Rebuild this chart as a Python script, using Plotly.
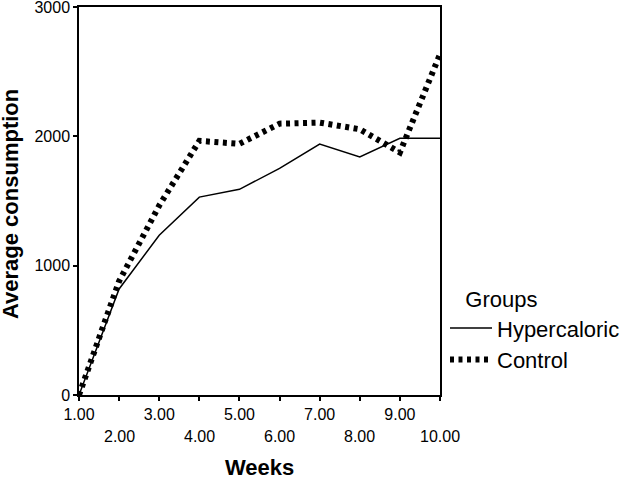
import plotly.graph_objects as go

# weekly average consumption
weeks = [1, 2, 3, 4, 5, 6, 7, 8, 9, 10]
hypercaloric = [0, 820, 1235, 1530, 1590, 1752, 1940, 1840, 1985, 1985]
control = [0, 880, 1465, 1965, 1942, 2098, 2106, 2055, 1875, 2635]
tick_labels = ["1.00", "2.00", "3.00", "4.00", "5.00", "6.00", "7.00", "8.00", "9.00", "10.00"]

FONT = "Liberation Sans, Arial, sans-serif"

fig = go.Figure()
fig.add_trace(go.Scatter(
    x=weeks, y=hypercaloric, name="Hypercaloric", mode="lines",
    line=dict(color="black", width=1.5)
))
fig.add_trace(go.Scatter(
    x=weeks, y=control, name="Control", mode="lines",
    line=dict(color="black", width=6, dash="4px,4.5px")
))

# odd weeks on the first row of tick labels, even weeks on a second row
odd_text = [t if w % 2 == 1 else "" for w, t in zip(weeks, tick_labels)]
for w, t in zip(weeks, tick_labels):
    if w % 2 == 0:
        fig.add_annotation(
            x=w, y=0, xref="x", yref="paper", yshift=-41,
            text=t, showarrow=False, yanchor="middle",
            font=dict(family=FONT, size=16, color="black")
        )

# axis titles placed as annotations so they can be positioned exactly
fig.add_annotation(
    x=0.5, y=0, xref="paper", yref="paper", yshift=-72, borderpad=0,
    text="<b>Weeks</b>", showarrow=False, xanchor="center", yanchor="middle",
    font=dict(family=FONT, size=22, color="black")
)
fig.add_annotation(
    x=0, y=0.5, xref="paper", yref="paper", xshift=-68.5, yshift=-3.5,
    text="<b>Average consumption</b>", showarrow=False, textangle=-90,
    xanchor="center", yanchor="middle", borderpad=0,
    font=dict(family=FONT, size=22, color="black")
)

fig.update_xaxes(
    range=[1, 10], tickvals=weeks, ticktext=odd_text,
    ticks="outside", ticklen=4, tickcolor="black", tickwidth=1.5,
    showline=True, linecolor="black", linewidth=1.5, mirror=True,
    showgrid=False, zeroline=False, automargin=False,
    ticklabeloverflow="allow",
    tickfont=dict(family=FONT, size=16, color="black")
)
fig.update_yaxes(
    range=[0, 3000], tickvals=[0, 1000, 2000, 3000],
    ticks="outside", ticklen=4, tickcolor="black", tickwidth=1.5,
    showline=True, linecolor="black", linewidth=1.5, mirror=True,
    showgrid=False, zeroline=False, automargin=False,
    ticklabeloverflow="allow",
    tickfont=dict(family=FONT, size=16, color="black")
)

fig.update_layout(
    width=621, height=479,
    margin=dict(l=78.5, r=181, t=6.5, b=83.5, autoexpand=False),
    paper_bgcolor="white", plot_bgcolor="white",
    showlegend=True,
    legend=dict(
        x=(445 - 78.5) / (621 - 78.5 - 181), xanchor="left",
        y=0.3, yanchor="top",
        title=dict(text="&nbsp;&nbsp;&nbsp;Groups",
                   font=dict(family=FONT, size=22, color="black")),
        font=dict(family=FONT, size=22, color="black"),
        bgcolor="rgba(0,0,0,0)", tracegroupgap=0, itemwidth=42
    )
)

# drop the browser's default 8px body margin so the figure sits at the window origin
fig.write_html("out.html", config={"displayModeBar": False},
               post_script="document.body.style.margin='0';")
